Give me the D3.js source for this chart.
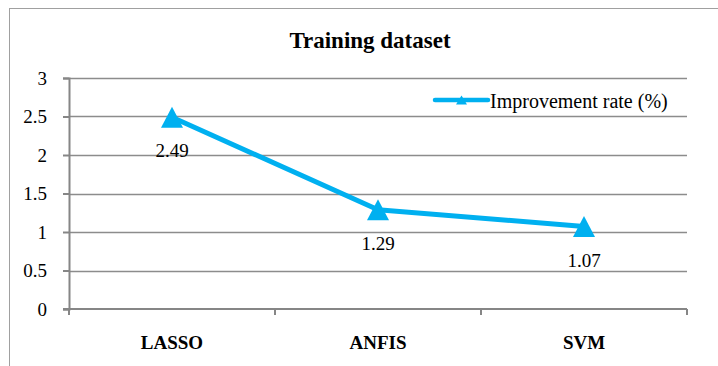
<!DOCTYPE html>
<html>
<head>
<meta charset="utf-8">
<script src="https://cdn.jsdelivr.net/npm/d3@7"></script>
<style>
  html, body { margin: 0; padding: 0; background: #fff; }
  svg { display: block; }
  svg text { font-family: 'Liberation Serif', 'Times New Roman', serif; }
</style>
</head>
<body>
<svg id="chart" width="718" height="366"></svg>
<script>
// Chart data
const categories = ["LASSO", "ANFIS", "SVM"];
const improvementRate = [2.49, 1.29, 1.07];
const yTicks = [0, 0.5, 1, 1.5, 2, 2.5, 3];
const yTickLabels = ["0", "0.5", "1", "1.5", "2", "2.5", "3"];
const seriesName = "Improvement rate (%)";
const chartTitle = "Training dataset";

const FONT = "'Liberation Serif', 'Times New Roman', serif";
const svg = d3.select("#chart");
const W = 718, H = 366;
const plot = { left: 69, right: 687, top: 78, bottom: 309 };
const lineColor = "#00b0f0";
const gridColor = "#8c8c8c";
const axisColor = "#868686";

// Outer chart frame
svg.append("rect")
  .attr("x", 9.5).attr("y", 8.5)
  .attr("width", W + 20).attr("height", H + 20)
  .attr("fill", "none").attr("stroke", "#a0a0a0").attr("stroke-width", 1);

const x = d3.scaleBand().domain(categories).range([plot.left, plot.right]).padding(0);
const y = d3.scaleLinear().domain([0, 3]).range([plot.bottom, plot.top]);

// Horizontal gridlines
svg.append("g")
  .selectAll("line")
  .data(yTicks.filter(t => t > 0))
  .join("line")
  .attr("x1", plot.left).attr("x2", plot.right)
  .attr("y1", d => Math.round(y(d)) + 0.5).attr("y2", d => Math.round(y(d)) + 0.5)
  .attr("stroke", gridColor).attr("stroke-width", 1.3);

// Y axis
const yAxis = svg.append("g")
  .attr("transform", `translate(${plot.left},0)`)
  .call(d3.axisLeft(y).tickValues(yTicks)
    .tickFormat((d, i) => yTickLabels[i]).tickSize(6).tickPadding(16));
yAxis.attr("font-family", FONT);
yAxis.select(".domain").attr("stroke", axisColor).attr("stroke-width", 2);
yAxis.selectAll(".tick line").attr("stroke", axisColor).attr("stroke-width", 2);
yAxis.selectAll(".tick text")
  .attr("font-family", FONT)
  .attr("font-size", 19).attr("fill", "#000").attr("dy", "0.34em");

// X axis: ticks at the category boundaries
const xAxisG = svg.append("g").attr("transform", `translate(0,${plot.bottom})`);
xAxisG.append("line")
  .attr("x1", plot.left - 6).attr("x2", plot.right)
  .attr("stroke", axisColor).attr("stroke-width", 2);
const boundaries = categories.map(c => x(c)).concat([x(categories[categories.length - 1]) + x.bandwidth()]);
xAxisG.selectAll("line.tk")
  .data(boundaries)
  .join("line").attr("class", "tk")
  .attr("x1", d => d).attr("x2", d => d)
  .attr("y1", 0).attr("y2", 6)
  .attr("stroke", axisColor).attr("stroke-width", 2);
xAxisG.selectAll("text")
  .data(categories)
  .join("text")
  .attr("x", d => x(d) + x.bandwidth() / 2)
  .attr("y", 40)
  .attr("text-anchor", "middle")
  .attr("font-family", FONT)
  .attr("font-weight", "bold")
  .attr("font-size", 19)
  .attr("fill", "#000")
  .text(d => d);

// Title
svg.append("text")
  .attr("x", 370).attr("y", 48)
  .attr("text-anchor", "middle")
  .attr("font-family", FONT)
  .attr("font-weight", "bold").attr("font-size", 23)
  .attr("fill", "#000")
  .text(chartTitle);

// Series line
const pts = categories.map((c, i) => ({ c, v: improvementRate[i] }));
const cx = d => x(d.c) + x.bandwidth() / 2;
svg.append("path")
  .datum(pts)
  .attr("fill", "none")
  .attr("stroke", lineColor)
  .attr("stroke-width", 5)
  .attr("stroke-linejoin", "round")
  .attr("d", d3.line().x(cx).y(d => y(d.v)));

// Triangle markers
const tri = (w, h) => `M0,${-h / 2}L${w / 2},${h / 2}L${-w / 2},${h / 2}Z`;
svg.append("g")
  .selectAll("path")
  .data(pts)
  .join("path")
  .attr("transform", d => `translate(${cx(d)},${y(d.v)})`)
  .attr("d", tri(22, 21))
  .attr("fill", lineColor);

// Value labels
svg.append("g")
  .selectAll("text")
  .data(pts)
  .join("text")
  .attr("x", cx)
  .attr("y", d => y(d.v) + 40)
  .attr("text-anchor", "middle")
  .attr("font-family", FONT)
  .attr("font-size", 19)
  .attr("fill", "#000")
  .text(d => d.v.toFixed(2));

// Legend
const legend = svg.append("g").attr("transform", "translate(435,100)");
legend.append("line")
  .attr("x1", 0).attr("x2", 53).attr("y1", 0).attr("y2", 0)
  .attr("stroke", lineColor).attr("stroke-width", 4.5).attr("stroke-linecap", "round");
legend.append("path")
  .attr("transform", "translate(26.5,0)")
  .attr("d", tri(11, 9))
  .attr("fill", lineColor);
legend.append("text")
  .attr("x", 55).attr("y", 8)
  .attr("font-family", FONT)
  .attr("font-size", 20)
  .attr("fill", "#000")
  .text(seriesName);
</script>
</body>
</html>
